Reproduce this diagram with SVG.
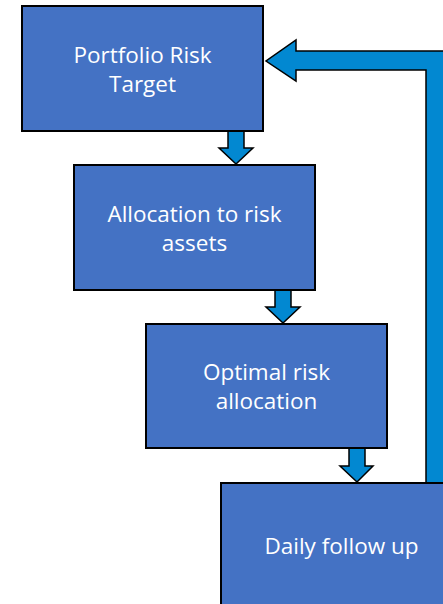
<svg xmlns="http://www.w3.org/2000/svg" width="443" height="604" viewBox="0 0 443 604">
<style>
.box{fill:#4472C4;stroke:#000;stroke-width:2}
.arr{fill:#0288D1;stroke:#000;stroke-width:1.5;stroke-linejoin:miter}
.t{font-family:"Open Sans","Noto Sans",sans-serif;font-size:22.5px;fill:#fff;text-anchor:middle}
</style>
<rect width="443" height="604" fill="#fff"/>
<g id="connectors">
<polygon class="arr" points="228,131 244,131 244,148 253,148 236,164 219,148 228,148"/>
<polygon class="arr" points="275,290 291,290 291,307 300,307 283,323 266,307 275,307"/>
<polygon class="arr" points="349,448 365,448 365,466 373,466 357,482 340,466 349,466"/>
<polygon class="arr" points="426,483 426,70 296,70 296,81 266,61 296,40 296,51 446,51 446,483"/>
</g>
<g id="n1">
<rect class="box" x="22" y="6" width="241" height="125"/>
<text class="t" x="142.5" y="63">Portfolio Risk</text>
<text class="t" x="142.5" y="92">Target</text>
</g>
<g id="n2">
<rect class="box" x="74" y="165" width="241" height="125"/>
<text class="t" x="194.5" y="222">Allocation to risk</text>
<text class="t" x="194.5" y="251">assets</text>
</g>
<g id="n3">
<rect class="box" x="146" y="324" width="241" height="124"/>
<text class="t" x="266.5" y="380">Optimal risk</text>
<text class="t" x="266.5" y="409">allocation</text>
</g>
<g id="n4">
<rect class="box" x="221" y="483" width="241" height="125"/>
<text class="t" x="341.5" y="554">Daily follow up</text>
</g>
</svg>
